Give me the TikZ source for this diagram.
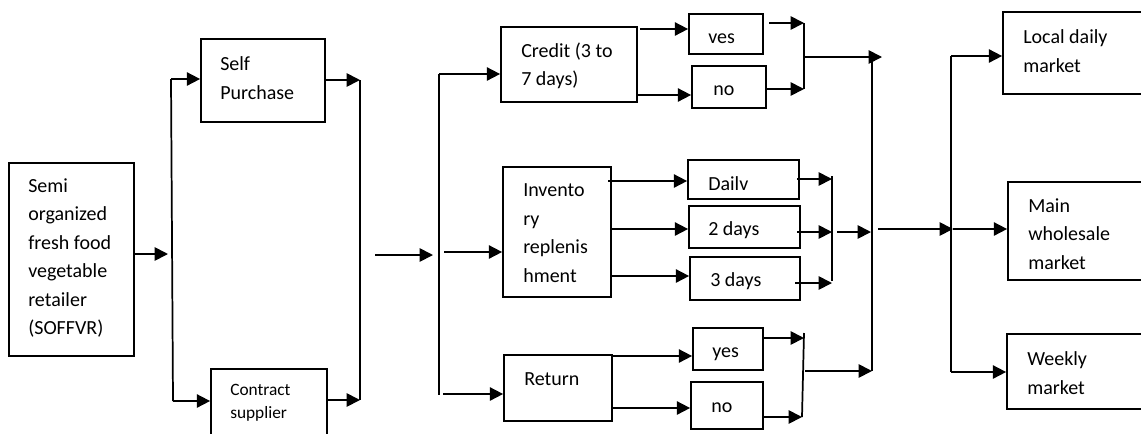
\documentclass[tikz,border=0pt]{standalone}
\usepackage{fontspec}
\setmainfont{Carlito}
\usetikzlibrary{arrows.meta,fit}
\tikzset{
  box/.style={draw, line width=1.3pt, inner sep=0pt},
  ln/.style={line width=1.3pt},
  arr/.style={line width=1.3pt, -{Triangle[length=10pt,width=10pt]}},
  txt/.style={inner sep=0pt, align=left, font=\fontsize{15}{21.4}\selectfont},
  small/.style={inner sep=0pt, align=left, font=\fontsize{13}{17.6}\selectfont}
}
\begin{document}
\begin{tikzpicture}[x=0.75pt,y=-0.75pt]
\useasboundingbox (0,0) rectangle (1141,433);
\fill[white] (0,0) rectangle (1141,433);
\clip (0,0) rectangle (1141,433);
% boxes
\node[box, fit={(9,163)(134,356)}] (soff) {};
\node[box, fit={(201,39)(325,122)}] (self) {};
\node[box, fit={(211,369)(327,470)}] (contr) {};
\node[box, fit={(501,27)(637,102)}] (cred) {};
\node[box, fit={(503,167)(611,297)}] (inv) {};
\node[box, fit={(504,355)(612,421)}] (ret) {};
\node[box, fit={(689,14)(763,54)}] (cy) {};
\node[box, fit={(692,66)(766,108)}] (cn) {};
\node[box, fit={(688,160)(799,199)}] (d1) {};
\node[box, fit={(689,206)(800,248)}] (d2) {};
\node[box, fit={(690,257)(800,300)}] (d3) {};
\node[box, fit={(693,328)(763,370)}] (ry) {};
\node[box, fit={(691,382)(763,429)}] (rn) {};
\node[box, fit={(1003,12)(1170,94)}] (loc) {};
\node[box, fit={(1008,182)(1170,280)}] (main) {};
\node[box, fit={(1007,334)(1170,409)}] (week) {};
% texts
\node[txt, anchor=west] (tsoff) at (28,258) {Semi\\organized\\fresh food\\vegetable\\retailer\\(SOFFVR)};
\node[txt, anchor=west] (tself) at (220,78) {Self\\Purchase};
\node[small, anchor=west] (tcontr) at (230,403) {Contract\\supplier};
\node[txt, anchor=west] (tcred) at (521,66) {Credit (3 to\\7 days)};
\node[txt, anchor=west] (tinv) at (523,233) {Invento\\ry\\replenis\\hment};
\node[txt, anchor=base west] (tret) at (524,385) {Return};
\node[txt, anchor=base west] (tcy) at (708,43) {ves};
\node[txt, anchor=base west] (tcn) at (713,95) {no};
\node[txt, anchor=base west] (td1) at (708,190) {Dailv};
\node[txt, anchor=base west] (td2) at (708,235) {2 days};
\node[txt, anchor=base west] (td3) at (710,286) {3 days};
\node[txt, anchor=base west] (try) at (712,357) {yes};
\node[txt, anchor=base west] (trn) at (711,412) {no};
\node[txt, anchor=west] (tloc) at (1023,51) {Local daily\\market};
\node[txt, anchor=west] (tmain) at (1028,234) {Main\\wholesale\\market};
\node[txt, anchor=west] (tweek) at (1027,373) {Weekly\\market};
% coordinates
\coordinate (b1m) at (168,254);
\coordinate (b1t) at (171,79);
\coordinate (b1b) at (173,401);
\coordinate (b2t) at (360,80);
\coordinate (b2b) at (360,400);
\coordinate (fr) at (375,255);
\coordinate (b3m) at (433,255);
\coordinate (b3t) at (439,74);
\coordinate (b3b) at (439,395);
\coordinate (b3i) at (444,252);
\coordinate (b3r) at (443,394);
\coordinate (c1) at (640,29);
\coordinate (c2) at (637,95);
\coordinate (i1) at (608,181);
\coordinate (i2) at (611,229);
\coordinate (i3) at (611,276);
\coordinate (r1) at (612,356);
\coordinate (r2) at (612,408);
\coordinate (y1) at (769,23);
\coordinate (b4t) at (804,23);
\coordinate (b4b) at (804,89);
\coordinate (b4m) at (804,57);
\coordinate (bgt) at (872,57);
\coordinate (bgtip) at (882,57);
\coordinate (bgb) at (872,371);
\coordinate (e1) at (797,179);
\coordinate (e2) at (797,232);
\coordinate (e3) at (795,283);
\coordinate (b5t) at (832,176);
\coordinate (b5b) at (832,281);
\coordinate (b5o) at (837,232);
\coordinate (bgm) at (871,232);
\coordinate (b6t) at (804,333);
\coordinate (b6b) at (802,417);
\coordinate (b6o) at (805,371);
\coordinate (bgo) at (878,229);
\coordinate (b7t) at (951,56);
\coordinate (b7m) at (953,229);
\coordinate (b7b) at (951,372);
% connectors
\draw[arr] (soff.east |- b1m) -- (b1m);
\draw[ln] (b1t) -- (b1b);
\draw[arr] (b1t) -- (self.west |- b1t);
\draw[arr] (b1b) -- (contr.west |- b1b);
\draw[ln] (b2t) -- (b2b);
\draw[arr] (self.east |- b2t) -- (b2t);
\draw[arr] (contr.east |- b2b) -- (b2b);
\draw[arr] (fr) -- (b3m);
\draw[ln] (b3t) -- (b3b);
\draw[arr] (b3t) -- (cred.west |- b3t);
\draw[arr] (b3i) -- (inv.west |- b3i);
\draw[arr] (b3r) -- (ret.west |- b3r);
\draw[arr] (c1) -- (cy.west |- c1);
\draw[arr] (c2) -- (cn.west |- c2);
\draw[arr] (i1) -- (d1.west |- i1);
\draw[arr] (i2) -- (d2.west |- i2);
\draw[arr] (i3) -- (d3.west |- i3);
\draw[arr] (r1) -- (ry.west |- r1);
\draw[arr] (r2) -- (rn.west |- r2);
\draw[arr] (y1) -- (b4t);
\draw[arr] (cn.east |- b4b) -- (b4b);
\draw[ln] (b4t) -- (b4b);
\draw[arr] (b4m) -- (bgtip);
\draw[arr] (e1) -- (b5t |- e1);
\draw[arr] (e2) -- (b5t |- e2);
\draw[arr] (e3) -- (b5t |- e3);
\draw[ln] (b5t) -- (b5b);
\draw[arr] (b5o) -- (bgm);
\draw[arr] (ry.east |- 0,338) -- (b6t |- 0,338);
\draw[arr] (rn.east |- b6b) -- (b6b);
\draw[ln] (b6t) -- (b6b);
\draw[arr] (b6o) -- (bgb);
\draw[ln] (bgt) -- (bgb);
\draw[arr] (bgo) -- (b7m);
\draw[ln] (b7t) -- (b7b);
\draw[arr] (b7t) -- (loc.west |- b7t);
\draw[arr] (b7m) -- (main.west |- b7m);
\draw[arr] (b7b) -- (week.west |- b7b);
\end{tikzpicture}
\end{document}
